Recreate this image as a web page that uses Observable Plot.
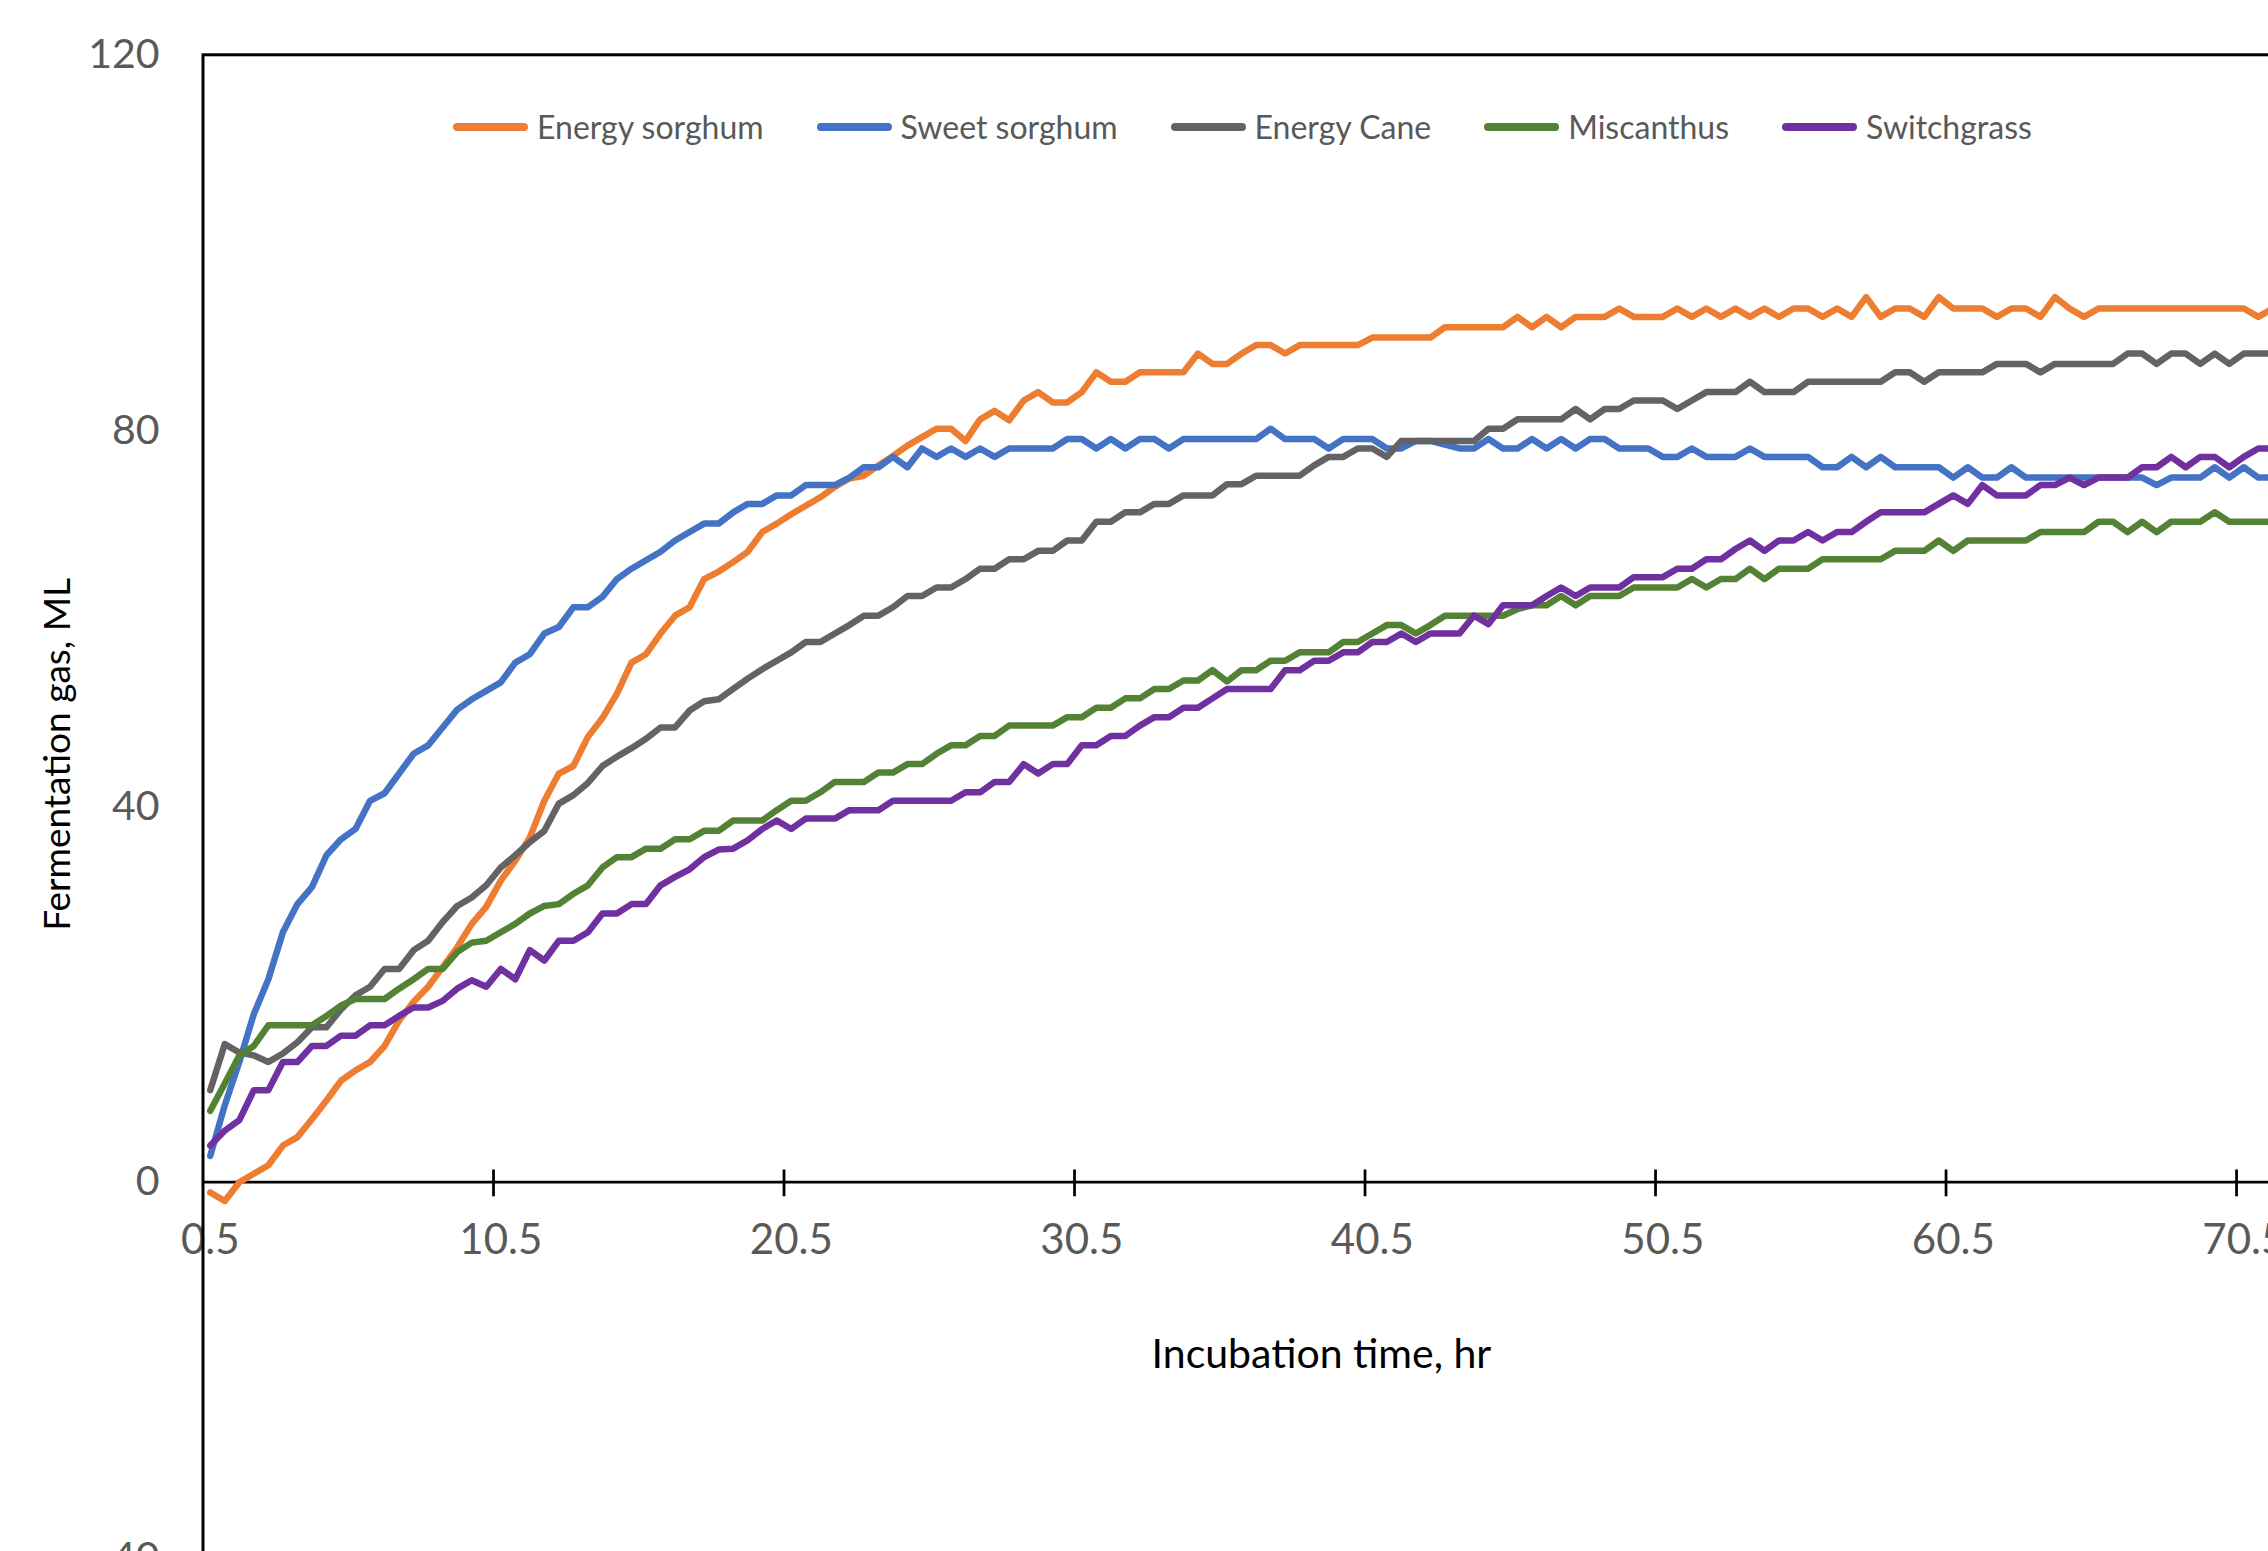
<!DOCTYPE html>
<html>
<head>
<meta charset="utf-8">
<script src="https://cdn.jsdelivr.net/npm/d3@7"></script>
<script src="https://cdn.jsdelivr.net/npm/@observablehq/plot@0.6"></script>
<style>
  html, body { margin: 0; padding: 0; background: #fff; overflow: hidden; }
  #wrap { position: relative; width: 2268px; height: 1551px; overflow: hidden; background: #fff; font-family: Lato, "Open Sans", sans-serif; }
  #chart { position: absolute; left: 0; top: 0; width: 2460px; height: 1578px; }
  #chart svg { max-width: none !important; width: 2460px !important; height: 1578px !important; display: block; }
  #legend { position: absolute; left: 453px; top: 109px; height: 36px; display: flex; align-items: center; gap: 53px; }
  .item { display: flex; align-items: center; }
  .sw { width: 75px; height: 7.5px; border-radius: 4px; margin-right: 9px; }
  .lab { font-size: 32px; color: #595959; line-height: 1; white-space: nowrap; }
</style>
</head>
<body>
<div id="wrap"><div id="chart"></div><div id="legend"></div></div>
<script>
// Incubation time (hr), sampled every half hour
const hours = [0.5,1,1.5,2,2.5,3,3.5,4,4.5,5,5.5,6,6.5,7,7.5,8,8.5,9,9.5,10,10.5,11,11.5,12,12.5,13,13.5,14,14.5,15,15.5,16,16.5,17,17.5,18,18.5,19,19.5,20,20.5,21,21.5,22,22.5,23,23.5,24,24.5,25,25.5,26,26.5,27,27.5,28,28.5,29,29.5,30,30.5,31,31.5,32,32.5,33,33.5,34,34.5,35,35.5,36,36.5,37,37.5,38,38.5,39,39.5,40,40.5,41,41.5,42,42.5,43,43.5,44,44.5,45,45.5,46,46.5,47,47.5,48,48.5,49,49.5,50,50.5,51,51.5,52,52.5,53,53.5,54,54.5,55,55.5,56,56.5,57,57.5,58,58.5,59,59.5,60,60.5,61,61.5,62,62.5,63,63.5,64,64.5,65,65.5,66,66.5,67,67.5,68,68.5,69,69.5,70,70.5,71,71.5];

const seriesNames = ["Energy sorghum", "Sweet sorghum", "Energy Cane", "Miscanthus", "Switchgrass"];
const seriesColors = ["#ED7D31", "#4472C4", "#636363", "#548235", "#7030A0"];

const energySorghum = [-1.1,-2.0,0.0,0.9,1.8,3.9,4.8,6.7,8.7,10.8,11.9,12.8,14.5,17.2,19.2,20.8,22.9,25.0,27.5,29.3,32.1,34.2,36.7,40.6,43.5,44.3,47.4,49.4,52.0,55.3,56.2,58.4,60.3,61.2,64.2,65.0,66.0,67.1,69.2,70.1,71.1,72.0,72.9,74.0,74.9,75.2,76.3,77.3,78.4,79.3,80.2,80.2,78.9,81.2,82.1,81.1,83.2,84.1,83.0,83.0,84.1,86.2,85.2,85.2,86.2,86.2,86.2,86.2,88.2,87.1,87.1,88.2,89.1,89.1,88.2,89.1,89.1,89.1,89.1,89.1,89.9,89.9,89.9,89.9,89.9,91.0,91.0,91.0,91.0,91.0,92.1,91.0,92.1,91.0,92.1,92.1,92.1,93.0,92.1,92.1,92.1,93.0,92.1,93.0,92.1,93.0,92.1,93.0,92.1,93.0,93.0,92.1,93.0,92.1,94.2,92.1,93.0,93.0,92.1,94.2,93.0,93.0,93.0,92.1,93.0,93.0,92.1,94.2,93.0,92.1,93.0,93.0,93.0,93.0,93.0,93.0,93.0,93.0,93.0,93.0,93.0,92.1,93.0];

const sweetSorghum = [2.8,8.2,12.8,17.9,21.6,26.6,29.6,31.4,34.8,36.5,37.6,40.6,41.4,43.5,45.6,46.5,48.4,50.3,51.4,52.3,53.2,55.3,56.2,58.4,59.1,61.2,61.2,62.3,64.2,65.3,66.2,67.1,68.3,69.2,70.1,70.1,71.3,72.2,72.2,73.1,73.1,74.2,74.2,74.2,75.0,76.1,76.1,77.2,76.1,78.1,77.2,78.1,77.2,78.1,77.2,78.1,78.1,78.1,78.1,79.1,79.1,78.1,79.1,78.1,79.1,79.1,78.1,79.1,79.1,79.1,79.1,79.1,79.1,80.2,79.1,79.1,79.1,78.1,79.1,79.1,79.1,78.1,78.1,78.9,78.9,78.5,78.1,78.1,79.1,78.1,78.1,79.1,78.1,79.1,78.1,79.1,79.1,78.1,78.1,78.1,77.2,77.2,78.1,77.2,77.2,77.2,78.1,77.2,77.2,77.2,77.2,76.1,76.1,77.2,76.1,77.2,76.1,76.1,76.1,76.1,75.0,76.1,75.0,75.0,76.1,75.0,75.0,75.0,75.0,75.0,75.0,75.0,75.0,75.0,74.2,75.0,75.0,75.0,76.1,75.0,76.1,75.0,75.0];

const energyCane = [9.8,14.7,13.8,13.5,12.8,13.7,14.9,16.5,16.5,18.4,19.9,20.8,22.7,22.7,24.7,25.7,27.7,29.4,30.3,31.6,33.5,34.8,36.2,37.4,40.3,41.2,42.5,44.3,45.3,46.2,47.2,48.4,48.4,50.2,51.2,51.4,52.5,53.6,54.6,55.5,56.4,57.5,57.5,58.4,59.3,60.3,60.3,61.2,62.4,62.4,63.3,63.3,64.2,65.3,65.3,66.3,66.3,67.2,67.2,68.3,68.3,70.3,70.3,71.3,71.3,72.2,72.2,73.1,73.1,73.1,74.3,74.3,75.2,75.2,75.2,75.2,76.3,77.2,77.2,78.1,78.1,77.2,78.9,78.9,78.9,78.9,78.9,78.9,80.2,80.2,81.2,81.2,81.2,81.2,82.3,81.2,82.3,82.3,83.2,83.2,83.2,82.3,83.2,84.1,84.1,84.1,85.2,84.1,84.1,84.1,85.2,85.2,85.2,85.2,85.2,85.2,86.2,86.2,85.2,86.2,86.2,86.2,86.2,87.1,87.1,87.1,86.2,87.1,87.1,87.1,87.1,87.1,88.2,88.2,87.1,88.2,88.2,87.1,88.2,87.1,88.2,88.2,88.2];

const miscanthus = [7.6,10.5,13.5,14.5,16.7,16.7,16.7,16.7,17.7,18.8,19.5,19.5,19.5,20.6,21.6,22.7,22.7,24.5,25.5,25.7,26.6,27.5,28.6,29.4,29.6,30.7,31.6,33.5,34.6,34.6,35.5,35.5,36.5,36.5,37.4,37.4,38.5,38.5,38.5,39.6,40.6,40.6,41.5,42.6,42.6,42.6,43.6,43.6,44.5,44.5,45.6,46.5,46.5,47.5,47.5,48.6,48.6,48.6,48.6,49.5,49.5,50.5,50.5,51.5,51.5,52.5,52.5,53.4,53.4,54.5,53.3,54.5,54.5,55.5,55.5,56.4,56.4,56.4,57.5,57.5,58.4,59.3,59.3,58.4,59.3,60.3,60.3,60.3,60.3,60.3,61.0,61.4,61.4,62.4,61.4,62.4,62.4,62.4,63.3,63.3,63.3,63.3,64.2,63.3,64.2,64.2,65.3,64.2,65.3,65.3,65.3,66.3,66.3,66.3,66.3,66.3,67.2,67.2,67.2,68.3,67.2,68.3,68.3,68.3,68.3,68.3,69.2,69.2,69.2,69.2,70.3,70.3,69.2,70.3,69.2,70.3,70.3,70.3,71.3,70.3,70.3,70.3,70.3];

const switchgrass = [3.9,5.5,6.6,9.8,9.8,12.8,12.8,14.5,14.5,15.6,15.6,16.7,16.7,17.7,18.6,18.6,19.3,20.6,21.5,20.8,22.7,21.6,24.7,23.6,25.7,25.7,26.6,28.6,28.6,29.6,29.6,31.6,32.5,33.3,34.6,35.4,35.5,36.4,37.6,38.5,37.6,38.7,38.7,38.7,39.6,39.6,39.6,40.6,40.6,40.6,40.6,40.6,41.5,41.5,42.6,42.6,44.5,43.5,44.5,44.5,46.5,46.5,47.5,47.5,48.6,49.5,49.5,50.5,50.5,51.5,52.5,52.5,52.5,52.5,54.5,54.5,55.5,55.5,56.4,56.4,57.5,57.5,58.4,57.5,58.4,58.4,58.4,60.3,59.4,61.4,61.4,61.4,62.4,63.3,62.4,63.3,63.3,63.3,64.4,64.4,64.4,65.3,65.3,66.3,66.3,67.4,68.3,67.2,68.3,68.3,69.2,68.3,69.2,69.2,70.3,71.3,71.3,71.3,71.3,72.2,73.1,72.2,74.2,73.1,73.1,73.1,74.2,74.2,75.0,74.2,75.0,75.0,75.0,76.1,76.1,77.2,76.1,77.2,77.2,76.1,77.2,78.1,78.1];

const yTicks = [-40, 0, 40, 80, 120];
const xTickLabels = ["0.5", "10.5", "20.5", "30.5", "40.5", "50.5", "60.5", "70.5"];
const xTickMarks = [10.25, 20.25, 30.25, 40.25, 50.25, 60.25, 70.25];

const seriesValues = [energySorghum, sweetSorghum, energyCane, miscanthus, switchgrass];
const table = [];
seriesNames.forEach((name, s) => {
  hours.forEach((h, i) => table.push({series: name, hour: h, value: seriesValues[s][i]}));
});

const chart = Plot.plot({
  width: 2460,
  height: 1578,
  marginLeft: 202.5,
  marginRight: 20.6,
  marginTop: 54.3,
  marginBottom: 20.5,
  style: {fontFamily: "Lato, 'Open Sans', sans-serif", background: "#fff", maxWidth: "none"},
  x: {domain: [0.25, 77.25], axis: null},
  y: {domain: [-40, 120], axis: null},
  color: {domain: seriesNames, range: seriesColors},
  marks: [
    Plot.axisY({ticks: yTicks, tickSize: 0, tickPadding: 43.5, fontSize: 41, color: "#595959", tickFormat: d => String(d), label: null}),
    Plot.ruleY([0], {stroke: "#000", strokeWidth: 2.75}),
    Plot.ruleX(xTickMarks, {y1: -1.55, y2: 1.3, stroke: "#000", strokeWidth: 2.75}),
    Plot.text(xTickLabels, {x: d => +d, y: () => 0, dy: 58, fontSize: 42, fill: "#595959"}),
    Plot.text(["Incubation time, hr"], {frameAnchor: "middle", textAnchor: "middle", y: () => 0, dy: 173, fontSize: 41, fill: "#000"}),
    Plot.text(["Fermentation gas, ML"], {frameAnchor: "left", textAnchor: "middle", rotate: -90, dx: -144.5, dy: -52, fontSize: 37, fill: "#000"}),
    Plot.line(table, {x: "hour", y: "value", z: "series", stroke: "series", strokeWidth: 6.5, strokeLinejoin: "round", strokeLinecap: "round"}),
    Plot.frame({stroke: "#000", strokeWidth: 3})
  ]
});
document.getElementById("chart").appendChild(chart);

const legend = document.getElementById("legend");
seriesNames.forEach((name, i) => {
  const item = document.createElement("div");
  item.className = "item";
  const sw = document.createElement("span");
  sw.className = "sw";
  sw.style.background = seriesColors[i];
  const lab = document.createElement("span");
  lab.className = "lab";
  lab.textContent = name;
  item.appendChild(sw);
  item.appendChild(lab);
  legend.appendChild(item);
});
</script>
</body>
</html>
